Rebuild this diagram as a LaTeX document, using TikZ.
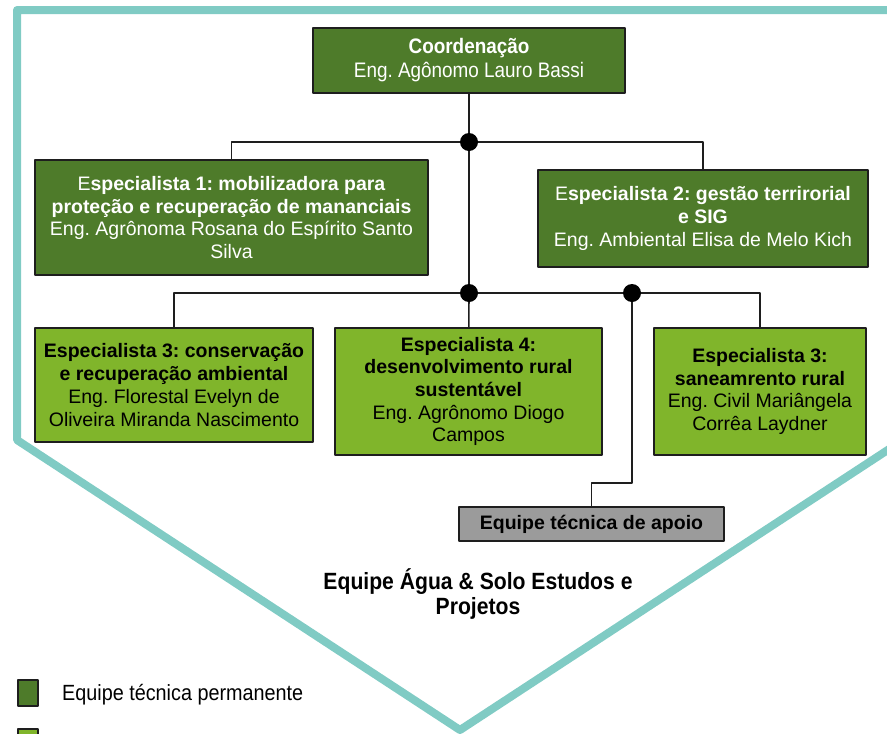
\documentclass[tikz,border=0pt]{standalone}
\usepackage{fontspec}
\setmainfont{Liberation Sans}
\newfontfamily\narrowfont[FakeStretch=0.9]{Liberation Sans}
\usetikzlibrary{calc,positioning}
\definecolor{verdeesc}{HTML}{4E7B2A}
\definecolor{verdecla}{HTML}{80B52B}
\definecolor{turquesa}{HTML}{80CBC4}
\definecolor{cinza}{HTML}{9B9B9B}
\definecolor{contorno}{HTML}{1E1E1E}
\frenchspacing

\begin{document}
\begin{tikzpicture}[line join=round,x=1pt,y=-1pt]
\tikzset{every node/.style={inner sep=0pt,align=center,font=\fontsize{19.5}{22.7}\selectfont},
caixa/.style={draw=contorno,line width=1.6pt},
escura/.style={caixa,fill=verdeesc,text=white},
clara/.style={caixa,fill=verdecla,text=black},
liga/.style={line width=1.6pt,color=contorno},
ponto/.style={fill=black}}
\useasboundingbox (0,0) rectangle (887,734);
\clip (0,0) rectangle (887,734);
\draw[turquesa,line width=8pt] (17,10)--(903,10)--(903,440)--(460,730)--(17,440)--cycle;
\node[escura,minimum width=312pt,minimum height=65pt,font=\narrowfont\fontsize{21}{24}\selectfont] (coord) at (469,60.5) {\textbf{Coordenação}\\Eng. Agônomo Lauro Bassi};
\node[escura,minimum width=393pt,minimum height=115pt] (esp1) at (231.5,217.5) {E\textbf{specialista 1: mobilizadora para}\\\textbf{proteção e recuperação de mananciais}\\Eng. Agrônoma Rosana do Espírito Santo\\Silva};
\node[escura,minimum width=330pt,minimum height=97pt] (esp2) at (703,218.5) {E\textbf{specialista 2: gestão terrirorial}\\\textbf{e SIG}\\Eng. Ambiental Elisa de Melo Kich};
\node[clara,minimum width=278pt,minimum height=114pt] (esp3) at (174,385) {\textbf{Especialista 3: conservação}\\\textbf{e recuperação ambiental}\\Eng. Florestal Evelyn de\\Oliveira Miranda Nascimento};
\node[clara,minimum width=267pt,minimum height=127pt] (esp4) at (468.5,391.5) {\textbf{Especialista 4:}\\\textbf{desenvolvimento rural}\\\textbf{sustentável}\\Eng. Agrônomo Diogo\\Campos};
\node[clara,minimum width=212pt,minimum height=127pt] (esp5) at (760,391.5) {\textbf{Especialista 3:}\\\textbf{saneamrento rural}\\Eng. Civil Mariângela\\Corrêa Laydner};
\node[caixa,fill=cinza,minimum width=265pt,minimum height=34pt] (apoio) at (591.5,524) {\textbf{Equipe técnica de apoio}};
\coordinate (j1) at (469,142);
\coordinate (j2) at (469,293);
\coordinate (j3) at (632,293);
\draw[liga] (coord)--(j1);
\draw[liga] (j1)-|(esp1);
\draw[liga] (j1)-|(esp2);
\draw[liga] (j1)--(j2);
\draw[liga] (j2)-|(esp3);
\draw[liga] (j2)--(esp4);
\draw[liga] (j2)--(j3)-|(esp5);
\draw[liga] (j3)--++(0,190)-|(apoio);
\foreach \j in {j1,j2,j3}{\fill[ponto] (\j) circle(9pt);}
\node[font=\narrowfont\bfseries\fontsize{23.5}{25}\selectfont] (titulo) at (478,594.5) {Equipe Água \& Solo Estudos e\\Projetos};
\draw[caixa,fill=verdeesc] (18,680) rectangle (38,706);
\draw[caixa,fill=verdecla] (18,729) rectangle (38,755);
\node[anchor=west,font=\narrowfont\fontsize{22}{24}\selectfont] (leg1) at (62,695) {Equipe técnica permanente};
\end{tikzpicture}
\end{document}
